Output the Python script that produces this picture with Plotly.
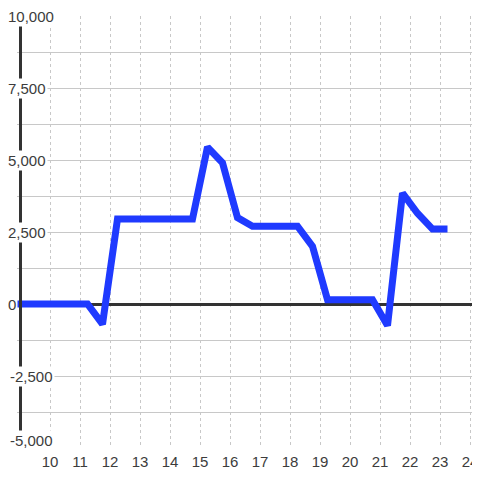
import plotly.graph_objects as go

hours = [8.75, 9.25, 9.75, 10.25, 10.75, 11.25, 11.75, 12.25, 12.75, 13.25,
         13.75, 14.25, 14.75, 15.25, 15.75, 16.25, 16.75, 17.25, 17.75, 18.25,
         18.75, 19.25, 19.75, 20.25, 20.75, 21.25, 21.75, 22.25, 22.75, 23.25]
values = [0, 0, 0, 0, 0, 0, -700, 2950, 2950, 2950,
          2950, 2950, 2950, 5450, 4900, 3000, 2700, 2700, 2700, 2700,
          2000, 150, 150, 150, 150, -750, 3850, 3150, 2600, 2600]

x_ticks = [10, 11, 12, 13, 14, 15, 16, 17, 18, 19, 20, 21, 22, 23, 24]
y_ticks = [10000, 7500, 5000, 2500, 0, -2500, -5000]
y_labels = ["10,000", "7,500", "5,000", "2,500", "0", "-2,500", "-5,000"]

# the page body adds an 8px margin, so the figure is drawn smaller
# (height leaves room for the bottom body margin so the page doesn't scroll)
OFF = 8
W, H = 480 - OFF, 480 - 2 * OFF
L, R, T, B = 17 - OFF, 0, 16 - OFF, 32 - OFF
x_range = [8.9, 24.3333]
y_range = [-5000, 10000]
font = "Liberation Sans, Arial, sans-serif"
text_col = "#3c3c3c"

fig = go.Figure()
fig.add_trace(go.Scatter(x=hours, y=values, mode="lines",
                         line=dict(color="#1f3aff", width=7),
                         hoverinfo="skip"))

plot_w = W - L - R


def px_to_paper(px):
    # px measured on the 480 page
    return (px - OFF - L) / plot_w


# y tick labels: digits start near x=7 on the page; negative labels
# can't hang further left than the page offset
annotations = []
for v, lab in zip(y_ticks, y_labels):
    start = OFF if lab.startswith("-") else 6
    bottom = v == min(y_ticks)
    annotations.append(dict(
        x=px_to_paper(start), xref="paper", xanchor="left",
        y=v, yref="y", yanchor="bottom" if bottom else "middle",
        yshift=-3 if bottom else 0,
        text=lab, showarrow=False, bgcolor="white", borderpad=1,
        font=dict(family=font, size=15, color=text_col),
    ))

# left vertical axis line at x = 20.5 px on the page
axis_x = x_range[0] + (20.5 - OFF - L) / plot_w * (x_range[1] - x_range[0])

fig.update_layout(
    width=W, height=H,
    margin=dict(l=L, r=R, t=T, b=B, pad=0, autoexpand=False),
    paper_bgcolor="white", plot_bgcolor="white",
    showlegend=False,
    font=dict(family=font, size=15, color=text_col),
    annotations=annotations,
    shapes=[dict(type="line", xref="x", yref="y",
                 x0=axis_x, x1=axis_x, y0=y_range[0], y1=y_range[1],
                 line=dict(color="#333", width=3))],
    xaxis=dict(range=x_range, tickvals=x_ticks, ticks="",
               showgrid=True, gridcolor="#c8c8c8", gridwidth=1,
               griddash="3px,3px", zeroline=False, showline=False,
               ticklabelstandoff=3, ticklabeloverflow="allow",
               automargin=False,
               tickfont=dict(family=font, size=15, color=text_col),
               fixedrange=True),
    yaxis=dict(range=y_range, dtick=2500, showticklabels=False, ticks="",
               showgrid=True, gridcolor="#c8c8c8", gridwidth=1,
               minor=dict(dtick=1250, showgrid=True, gridcolor="#c8c8c8",
                          gridwidth=1),
               zeroline=True, zerolinecolor="#333", zerolinewidth=3,
               showline=False, automargin=False, fixedrange=True),
)

fig.write_html("out.html", config={"displayModeBar": False})
